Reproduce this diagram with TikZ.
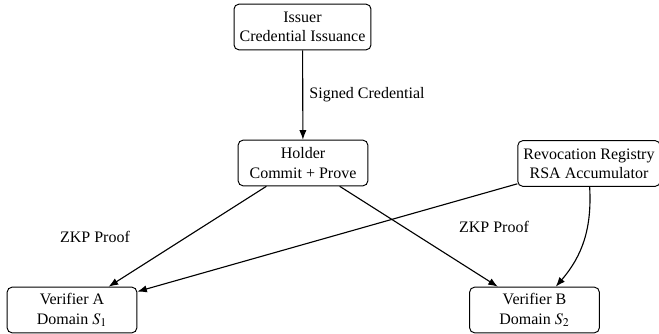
\documentclass[tikz,border=0pt]{standalone}
\usepackage{mathptmx}
\usepackage{fontspec}
\setmainfont{Liberation Serif}
\usetikzlibrary{arrows.meta}
\tikzset{
  box/.style={draw, line width=0.6pt, rounded corners=3pt, align=center, minimum width=81pt, minimum height=28.5pt, inner xsep=3.5pt, inner ysep=2pt},
  flow/.style={-{Latex[length=6pt,width=4.5pt]}, line width=0.7pt},
  lbl/.style={inner sep=0pt}
}
\begin{document}
\begin{tikzpicture}[x=0.625pt,y=-0.625pt]
\useasboundingbox (0,0) rectangle (659,334);
\node[box] (iss) at (302.5,27) {Issuer\\Credential Issuance};
\node[box] (hol) at (303,163) {Holder\\Commit + Prove};
\node[box] (rev) at (589,163.5) {Revocation Registry\\RSA Accumulator};
\node[box] (va) at (72,310) {Verifier A\\Domain $S_1$};
\node[box] (vb) at (534.5,310) {Verifier B\\Domain $S_2$};
\draw[flow] (iss) -- (hol);
\node[lbl] (l1) at (367,95) {Signed Credential};
\draw[flow] (hol) -- (va);
\draw[flow] (hol) -- (vb);
\draw[flow] (rev) -- (va);
\draw[flow] (rev) to[bend left=22] (vb);
\node[lbl] (l2) at (95,237) {ZKP Proof};
\node[lbl] (l3) at (494,227) {ZKP Proof};
\end{tikzpicture}
\end{document}
